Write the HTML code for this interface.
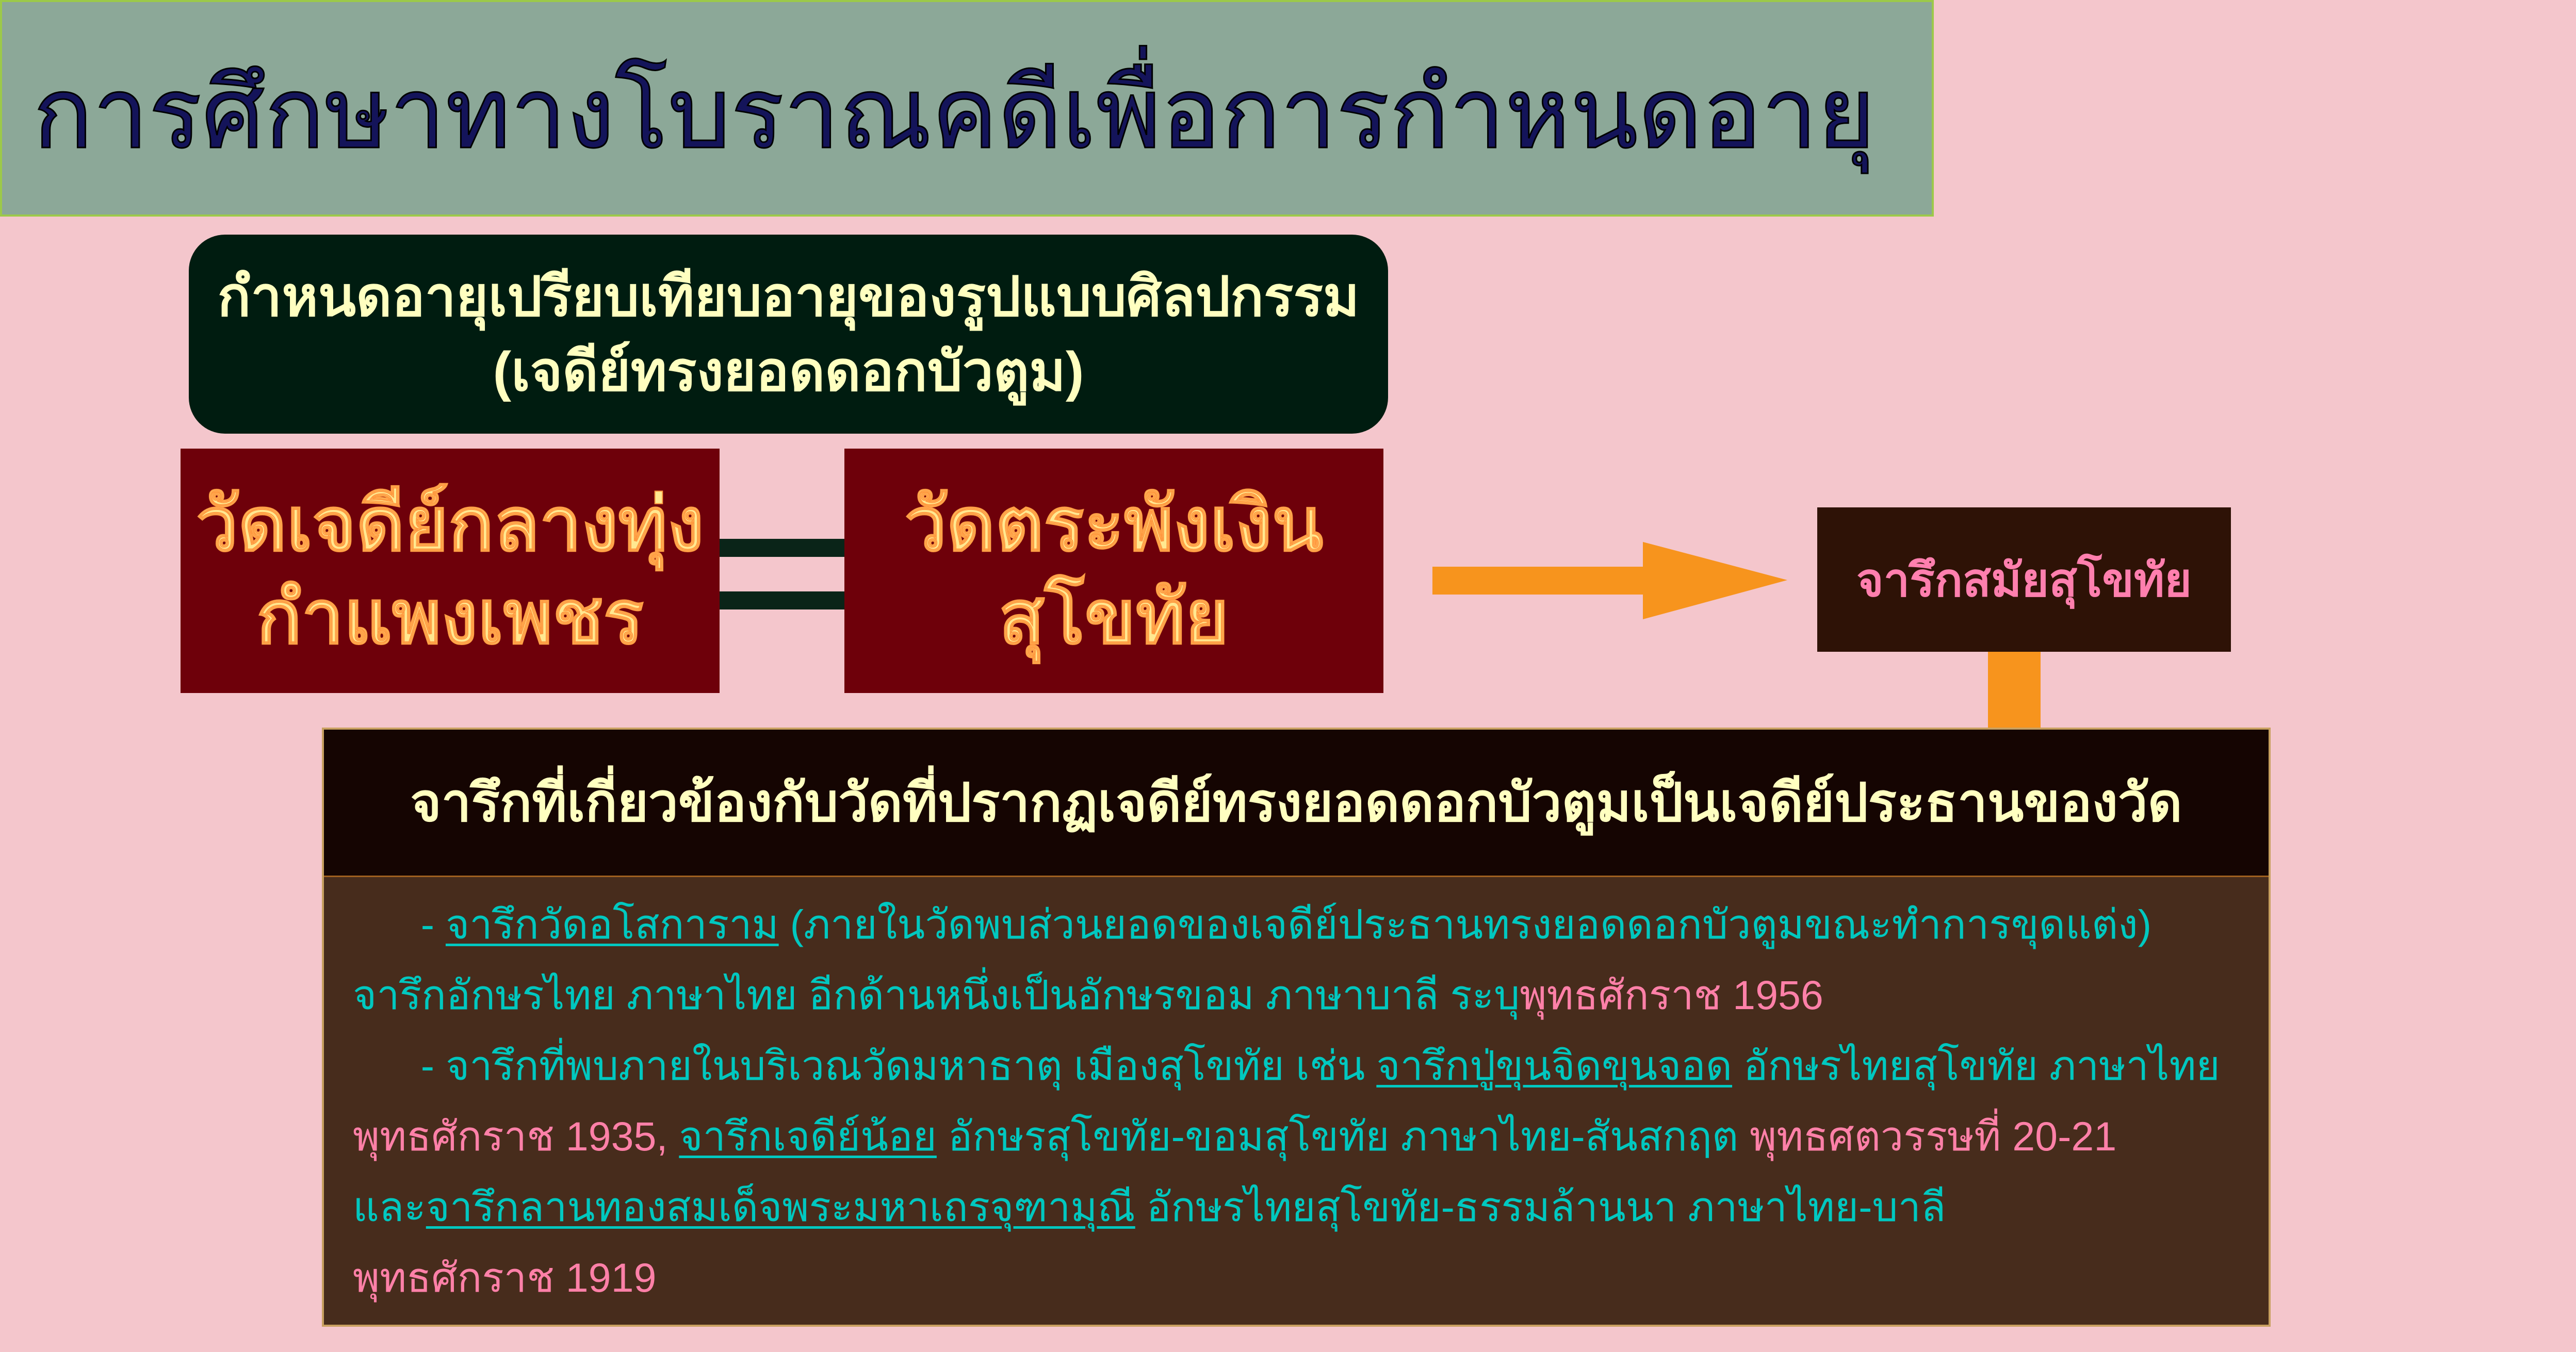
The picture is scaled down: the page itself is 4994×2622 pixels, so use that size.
<!DOCTYPE html>
<html><head><meta charset="utf-8"><style>
*{margin:0;padding:0;box-sizing:border-box}
body{width:4994px;height:2622px;background:#f4c6cc;position:relative;overflow:hidden;font-family:"Liberation Sans","DejaVu Sans",sans-serif}
.a{position:absolute}
.c{display:flex;align-items:center;justify-content:center;text-align:center}
.t{color:#00c8c0}.p{color:#ff80a8}
u{text-decoration-thickness:5px;text-underline-offset:10px}
</style></head><body>
<div class="a" style="left:0;top:0;width:3749px;height:420px;background:#8ca898;border:4px solid #9cc94a"></div>
<div class="a" style="left:64px;top:80px;width:3620px;height:280px;font-size:192px;color:#14145a;white-space:nowrap;line-height:280px;-webkit-text-stroke:3px #000">การศึกษาทางโบราณคดีเพื่อการกำหนดอายุ</div>

<div class="a c" style="left:366px;top:455px;width:2325px;height:386px;background:#001c10;border-radius:70px;color:#ffffc0;font-size:107px;line-height:145px;font-weight:bold">กำหนดอายุเปรียบเทียบอายุของรูปแบบศิลปกรรม<br>(เจดีย์ทรงยอดดอกบัวตูม)</div>

<div class="a c" style="left:350px;top:870px;width:1045px;height:474px;background:#6e000a;color:#ffe890;font-size:145px;line-height:180px;font-weight:bold;-webkit-text-stroke:2px #ff9a40">วัดเจดีย์กลางทุ่ง<br>กำแพงเพชร</div>
<div class="a" style="left:1395px;top:1045px;width:242px;height:35px;background:#0a2418"></div>
<div class="a" style="left:1395px;top:1147px;width:242px;height:35px;background:#0a2418"></div>
<div class="a c" style="left:1637px;top:870px;width:1045px;height:474px;background:#6e000a;color:#ffe890;font-size:145px;line-height:180px;font-weight:bold;-webkit-text-stroke:2px #ff9a40">วัดตระพังเงิน<br>สุโขทัย</div>

<svg class="a" style="left:2770px;top:1045px" width="700" height="165"><polygon points="7,54 415,54 415,6 695,80 415,156 415,108 7,108" fill="#f7941d"/></svg>

<div class="a c" style="left:3523px;top:984px;width:802px;height:280px;background:#2e1206;color:#ff7fae;font-size:90px;font-weight:bold">จารึกสมัยสุโขทัย</div>
<div class="a" style="left:3854px;top:1264px;width:102px;height:147px;background:#f7941d"></div>

<div class="a" style="left:624px;top:1411px;width:3778px;height:1162px;background:#472c1c;border:4px solid #c8a060"></div>
<div class="a c" style="left:628px;top:1415px;width:3770px;height:286px;background:#150502;border-bottom:3px solid #a06020;color:#ffffc0;font-size:103px;font-weight:bold">จารึกที่เกี่ยวข้องกับวัดที่ปรากฏเจดีย์ทรงยอดดอกบัวตูมเป็นเจดีย์ประธานของวัด</div>

<div class="a" style="left:684px;top:1724px;width:3700px;font-size:79px;line-height:137px;white-space:nowrap">
<div class="t">&nbsp;&nbsp;&nbsp;&nbsp;&nbsp;&nbsp;- <u>จารึกวัดอโสการาม</u> (ภายในวัดพบส่วนยอดของเจดีย์ประธานทรงยอดดอกบัวตูมขณะทำการขุดแต่ง)</div>
<div class="t">จารึกอักษรไทย ภาษาไทย อีกด้านหนึ่งเป็นอักษรขอม ภาษาบาลี ระบุ<span class="p">พุทธศักราช 1956</span></div>
<div class="t">&nbsp;&nbsp;&nbsp;&nbsp;&nbsp;&nbsp;- จารึกที่พบภายในบริเวณวัดมหาธาตุ เมืองสุโขทัย เช่น <u>จารึกปู่ขุนจิดขุนจอด</u> อักษรไทยสุโขทัย ภาษาไทย</div>
<div class="t"><span class="p">พุทธศักราช 1935,</span> <u>จารึกเจดีย์น้อย</u> อักษรสุโขทัย-ขอมสุโขทัย ภาษาไทย-สันสกฤต <span class="p">พุทธศตวรรษที่ 20-21</span></div>
<div class="t">และ<u>จารึกลานทองสมเด็จพระมหาเถรจุฑามุณี</u> อักษรไทยสุโขทัย-ธรรมล้านนา ภาษาไทย-บาลี</div>
<div class="p">พุทธศักราช 1919</div>
</div>
</body></html>
